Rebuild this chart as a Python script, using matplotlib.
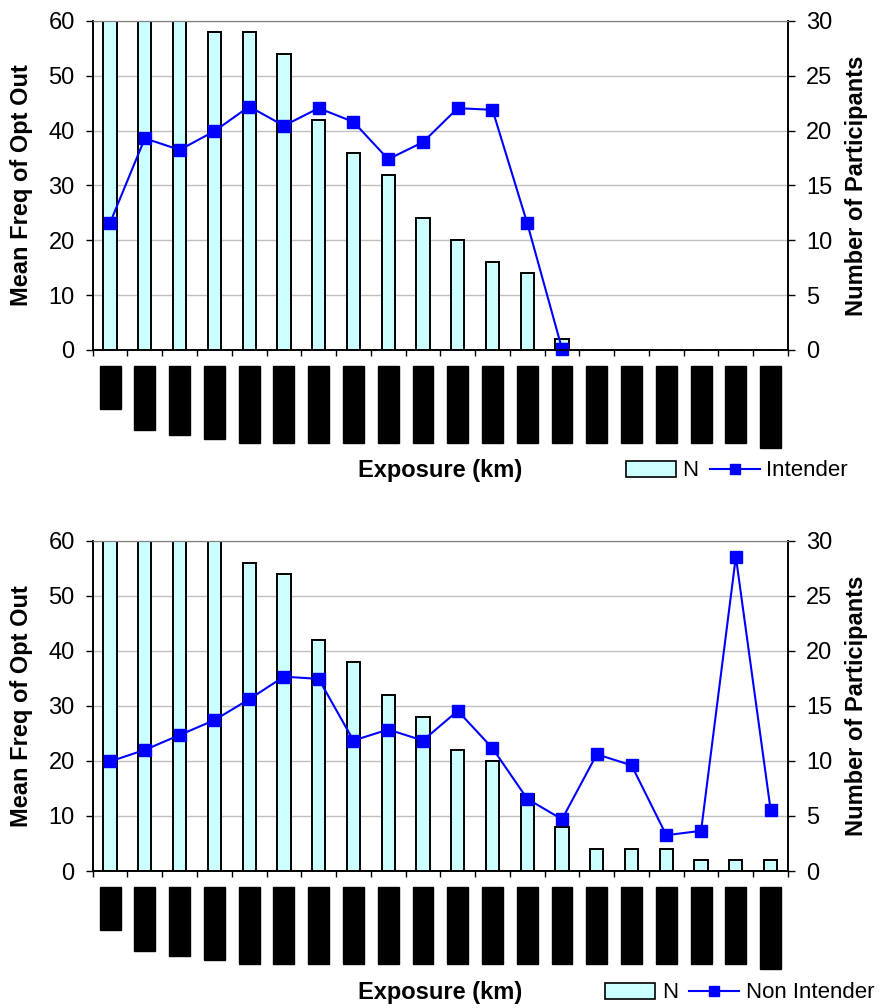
import matplotlib
matplotlib.use("Agg")
import matplotlib.pyplot as plt
import matplotlib.transforms as mtransforms
from matplotlib.patches import Rectangle
from matplotlib.lines import Line2D

plt.rcParams["font.family"] = ["Liberation Sans", "DejaVu Sans"]

FIG_W, FIG_H, DPI = 8.8, 10.08, 100
N_CATS = 20

# number of participants per exposure band (right axis, bars)
n_intender = [30, 30, 30, 29, 29, 27, 21, 18, 16, 12, 10, 8, 7, 1, 0, 0, 0, 0, 0, 0]
n_non_intender = [30, 30, 30, 30, 28, 27, 21, 19, 16, 14, 11, 10, 7, 4, 2, 2, 2, 1, 1, 1]

# mean frequency of opt out (left axis, line)
freq_intender = [23.2, 38.6, 36.5, 39.9, 44.4, 40.9, 44.1, 41.6, 34.8, 37.9,
                 44.1, 43.8, 23.1, 0.2]
freq_non_intender = [19.9, 22.0, 24.7, 27.4, 31.2, 35.3, 34.9, 23.7, 25.7, 23.7,
                     29.1, 22.3, 13.1, 9.4, 21.2, 19.2, 6.5, 7.3, 57.1, 11.1]

# category labels come out as solid black blocks in the source; their length (px)
label_len = [43, 64, 69, 73, 77, 77, 77, 77, 77, 77,
             77, 77, 77, 77, 77, 77, 77, 77, 77, 82]

BAR_COLOR = "#CCFFFF"
LINE_COLOR = "#0000FF"
GRID_COLOR = "#C0C0C0"


def px_x(p):
    return p / (FIG_W * DPI)


def px_y(p):
    return 1 - p / (FIG_H * DPI)


def draw_panel(fig, rect, n_vals, freq_vals, series_name, xlabel_y, legend_xy):
    ax = fig.add_axes(rect)
    ax2 = ax.twinx()
    ax.set_zorder(ax2.get_zorder() + 1)
    ax.patch.set_visible(False)

    x = list(range(N_CATS))
    ax2.bar(x, n_vals, width=0.38, color=BAR_COLOR, edgecolor="black", linewidth=1.4)
    ax2.set_ylim(0, 30)
    ax2.set_yticks(range(0, 31, 5))
    ax2.yaxis.grid(True, color=GRID_COLOR, lw=1)
    ax2.set_axisbelow(True)

    ax.plot(range(len(freq_vals)), freq_vals, color=LINE_COLOR, lw=1.5,
            marker="s", ms=8, mec=LINE_COLOR, mfc=LINE_COLOR, clip_on=False)
    ax.set_ylim(0, 60)
    ax.set_yticks(range(0, 61, 10))
    ax.set_xlim(-0.5, N_CATS - 0.5)
    ax.set_xticks([i - 0.5 for i in range(N_CATS + 1)])
    ax.set_xticklabels([])

    for a in (ax, ax2):
        a.spines["top"].set_color("#808080")
        for s in ("left", "right", "bottom"):
            a.spines[s].set_linewidth(1.2)
    ax.tick_params(axis="y", direction="out", length=5, width=1, labelsize=17, pad=8)
    ax.tick_params(axis="x", direction="out", length=4.5, width=1)
    ax2.tick_params(axis="y", direction="out", length=5, width=1, labelsize=17, pad=8)

    # unreadable category labels -> black blocks under each band
    trans = mtransforms.blended_transform_factory(ax.transData, ax.transAxes)
    ax_h_px = rect[3] * FIG_H * DPI
    for i, L in enumerate(label_len):
        ax.add_patch(Rectangle((i - 0.3, -(16 + L) / ax_h_px), 0.6, L / ax_h_px,
                               transform=trans, color="black", clip_on=False))

    yc = rect[1] + rect[3] / 2
    fig.text(px_x(22), yc, "Mean Freq of Opt Out", rotation=90, ha="center",
             va="center", fontsize=17, fontweight="bold")
    fig.text(px_x(856), yc, "Number of Participants", rotation=90, ha="center",
             va="center", fontsize=17, fontweight="bold")
    fig.text(px_x(440), px_y(xlabel_y), "Exposure (km)", ha="center", va="center",
             fontsize=17, fontweight="bold")

    handles = [Rectangle((0, 0), 1, 1, facecolor=BAR_COLOR, edgecolor="black", lw=1.2),
               Line2D([], [], color=LINE_COLOR, lw=1.5, marker="s", ms=7)]
    fig.legend(handles, ["N", series_name], loc="center",
               bbox_to_anchor=(px_x(legend_xy[0]), px_y(legend_xy[1])), ncol=2,
               frameon=False, fontsize=16, handlelength=2.25, handletextpad=0.3,
               columnspacing=0.5, borderpad=0, borderaxespad=0)
    return ax, ax2


fig = plt.figure(figsize=(FIG_W, FIG_H), dpi=DPI)
draw_panel(fig, [px_x(92.7), px_y(350), px_x(788) - px_x(92.7), (350 - 21) / (FIG_H * DPI)],
           n_intender, freq_intender, "Intender", 470, (737, 471))
draw_panel(fig, [px_x(92.7), px_y(871), px_x(788) - px_x(92.7), (871 - 540.7) / (FIG_H * DPI)],
           n_non_intender, freq_non_intender, "Non Intender", 993, (740, 993))

fig.savefig("out.png", dpi=DPI)
